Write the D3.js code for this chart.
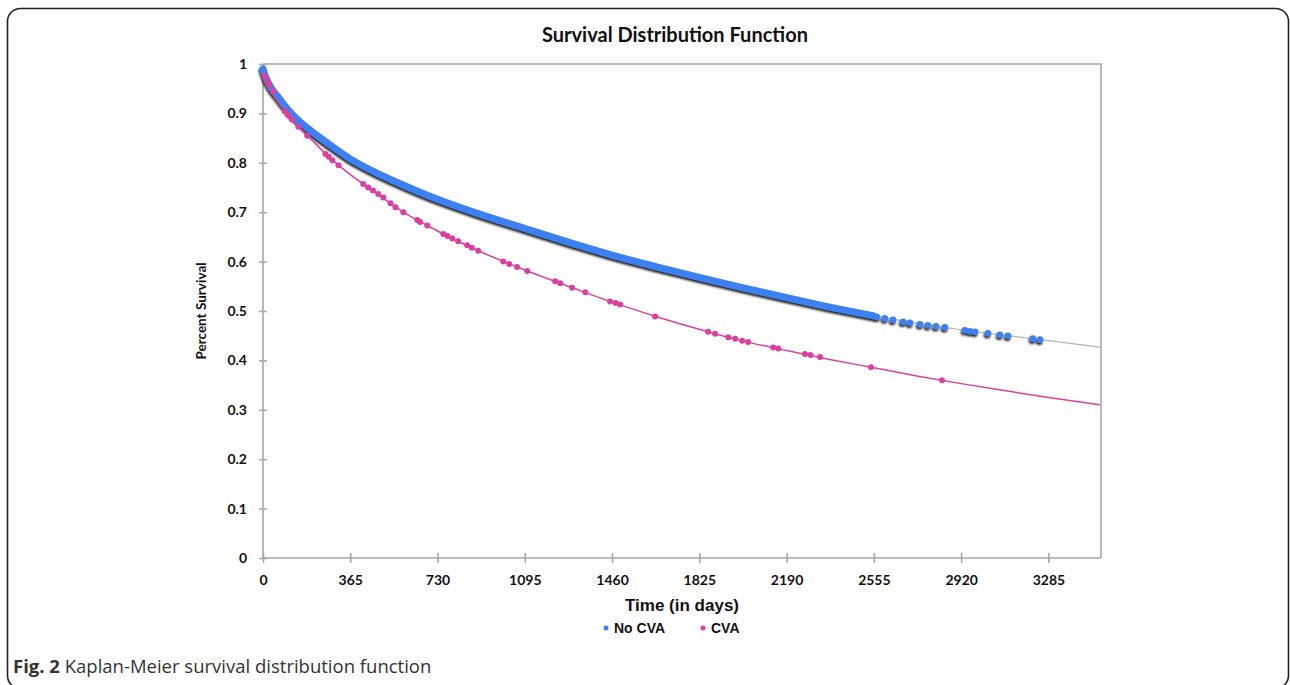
<!DOCTYPE html>
<html>
<head>
<meta charset="utf-8">
<script src="https://cdn.jsdelivr.net/npm/d3@7"></script>
<style>
  body { margin: 0; background: #fff; }
  svg { display: block; }
</style>
</head>
<body>
<svg id="chart" width="1290" height="685"></svg>
<script>
// survival curves: [day, survival]
const noCvaCurve = [
  [0, 0.99], [10, 0.975], [30, 0.955], [60, 0.935], [100, 0.91], [150, 0.885],
  [200, 0.865], [270, 0.84], [365, 0.808], [490, 0.776], [600, 0.752], [730, 0.726],
  [900, 0.697], [1095, 0.667], [1300, 0.636], [1460, 0.613], [1650, 0.589],
  [1825, 0.568], [2000, 0.548], [2190, 0.527], [2370, 0.508], [2555, 0.49],
  [2740, 0.475], [2920, 0.462], [3100, 0.451], [3285, 0.44], [3500, 0.427]
];
// the dense part of the No CVA markers looks like one solid band up to this day
const noCvaBandEnd = 2560;
// separate No CVA censor markers in the tail
const noCvaTail = [
  [2568, 0.488], [2601, 0.485], [2635, 0.482], [2677, 0.478], [2706, 0.476],
  [2748, 0.473], [2781, 0.471], [2815, 0.469], [2852, 0.467], [2936, 0.461],
  [2957, 0.459], [2978, 0.458], [3032, 0.455], [3082, 0.452], [3116, 0.45],
  [3220, 0.444], [3250, 0.442]
];

const cvaCurve = [
  [0, 0.985], [10, 0.97], [30, 0.95], [60, 0.925], [100, 0.9], [150, 0.872],
  [200, 0.848], [280, 0.81], [365, 0.776], [450, 0.747], [587, 0.70], [730, 0.662],
  [900, 0.622], [1095, 0.583], [1300, 0.546], [1460, 0.518], [1650, 0.488],
  [1825, 0.463], [2000, 0.44], [2190, 0.42], [2370, 0.402], [2555, 0.385],
  [2740, 0.368], [2920, 0.353], [3100, 0.339], [3285, 0.325], [3500, 0.31]
];
const cvaMarks = [
  [8, 0.975], [18, 0.965], [25, 0.958], [43, 0.945], [93, 0.904], [105, 0.897],
  [120, 0.888], [148, 0.873], [185, 0.855], [261, 0.818], [275, 0.812], [290, 0.805],
  [316, 0.795], [419, 0.757], [440, 0.75], [460, 0.744], [482, 0.737], [503, 0.73],
  [533, 0.718], [554, 0.71], [587, 0.70], [645, 0.684], [657, 0.68], [687, 0.673],
  [754, 0.656], [772, 0.652], [792, 0.647], [816, 0.641], [854, 0.633], [873, 0.628],
  [900, 0.622], [1005, 0.6], [1030, 0.595], [1063, 0.589], [1105, 0.581],
  [1222, 0.56], [1243, 0.556], [1293, 0.547], [1348, 0.538], [1452, 0.519],
  [1475, 0.516], [1494, 0.513], [1640, 0.489], [1862, 0.458], [1891, 0.454],
  [1946, 0.447], [1975, 0.444], [2004, 0.44], [2029, 0.437], [2134, 0.426],
  [2155, 0.424], [2267, 0.413], [2290, 0.411], [2330, 0.407], [2543, 0.386],
  [2840, 0.36]
];

const xTicks = [0, 365, 730, 1095, 1460, 1825, 2190, 2555, 2920, 3285];
const yTicks = [0, 0.1, 0.2, 0.3, 0.4, 0.5, 0.6, 0.7, 0.8, 0.9, 1];
const seriesNames = ["No CVA", "CVA"];
const seriesColors = ["#3c80f2", "#d9409f"];

const plot = { left: 263, right: 1101, top: 64, bottom: 558 };
const svg = d3.select("#chart");

// drop shadow used by the No CVA markers
const defs = svg.append("defs");
defs.append("filter")
  .attr("id", "shadow")
  .attr("x", "-20%").attr("y", "-20%").attr("width", "140%").attr("height", "140%")
  .append("feDropShadow")
  .attr("dx", -0.8).attr("dy", 2)
  .attr("stdDeviation", 0.8)
  .attr("flood-color", "#000")
  .attr("flood-opacity", 0.9);

// outer frame
svg.append("rect")
  .attr("x", 7.5).attr("y", 8.5)
  .attr("width", 1281).attr("height", 680)
  .attr("rx", 13)
  .attr("fill", "none")
  .attr("stroke", "#222")
  .attr("stroke-width", 1.6);

svg.append("text")
  .attr("x", 675).attr("y", 42)
  .attr("text-anchor", "middle")
  .style("font-family", "Lato, 'Open Sans', sans-serif")
  .style("font-weight", "bold")
  .style("font-size", "20px")
  .style("fill", "#111")
  .text("Survival Distribution Function");

const x = d3.scaleLinear().domain([0, 3505]).range([plot.left, plot.right]);
const y = d3.scaleLinear().domain([0, 1]).range([plot.bottom, plot.top]);

// plot area box (top and right sides)
svg.append("path")
  .attr("d", `M${plot.left},${plot.top}H${plot.right}V${plot.bottom}`)
  .attr("fill", "none")
  .attr("stroke", "#a8a8a8")
  .attr("stroke-width", 1.6);

const tickFont = g => g.selectAll("text")
  .style("font-family", "Lato, 'Open Sans', sans-serif")
  .style("font-weight", "bold")
  .style("font-size", "14px")
  .style("fill", "#111");

const xAxis = svg.append("g")
  .attr("transform", `translate(0,${plot.bottom})`)
  .call(d3.axisBottom(x).tickValues(xTicks).tickFormat(d3.format("d")).tickSize(5).tickPadding(12));
xAxis.selectAll(".tick line").attr("y1", -5);
xAxis.call(tickFont);

const yAxis = svg.append("g")
  .attr("transform", `translate(${plot.left},0)`)
  .call(d3.axisLeft(y).tickValues(yTicks).tickFormat(d => d === 0 || d === 1 ? d : d.toFixed(1)).tickSize(4).tickPadding(12));
yAxis.selectAll(".tick line").attr("x1", 4);
yAxis.call(tickFont);

svg.selectAll(".domain, .tick line")
  .attr("stroke", "#a8a8a8")
  .attr("stroke-width", 1.6);
xAxis.select(".domain").attr("d", `M${plot.left},0H${plot.right}`);
yAxis.select(".domain").attr("d", `M0,${plot.bottom}V${plot.top}`);

// axis titles
svg.append("text")
  .attr("x", 682).attr("y", 611)
  .attr("text-anchor", "middle")
  .style("font-family", "'Liberation Sans Narrow', 'Liberation Sans', sans-serif")
  .style("font-weight", "bold")
  .style("font-size", "17px")
  .style("fill", "#111")
  .text("Time (in days)");

svg.append("text")
  .attr("transform", `translate(206,${(plot.top + plot.bottom) / 2}) rotate(-90)`)
  .attr("text-anchor", "middle")
  .style("font-family", "Lato, 'Open Sans', sans-serif")
  .style("font-weight", "bold")
  .style("font-size", "13.5px")
  .style("fill", "#111")
  .text("Percent Survival");

const line = d3.line()
  .x(d => x(d[0]))
  .y(d => y(d[1]))
  .curve(d3.curveMonotoneX);

// No CVA: thin grey connecting line, dense marker band, tail markers
svg.append("path")
  .datum(noCvaCurve)
  .attr("d", line)
  .attr("fill", "none")
  .attr("stroke", "#b4b4b4")
  .attr("stroke-width", 1.2);

const blueG = svg.append("g").attr("filter", "url(#shadow)");
blueG.append("path")
  .datum(noCvaCurve.filter(d => d[0] <= noCvaBandEnd))
  .attr("d", line)
  .attr("fill", "none")
  .attr("stroke", seriesColors[0])
  .attr("stroke-width", 7)
  .attr("stroke-linecap", "round");
blueG.selectAll("circle")
  .data(noCvaTail)
  .join("circle")
  .attr("cx", d => x(d[0]))
  .attr("cy", d => y(d[1]))
  .attr("r", 3.3)
  .attr("fill", seriesColors[0]);

// CVA: pink line with censor markers
svg.append("path")
  .datum(cvaCurve)
  .attr("d", line)
  .attr("fill", "none")
  .attr("stroke", seriesColors[1])
  .attr("stroke-width", 1.5);

svg.append("g")
  .selectAll("circle")
  .data(cvaMarks)
  .join("circle")
  .attr("cx", d => x(d[0]))
  .attr("cy", d => y(d[1]))
  .attr("r", 3)
  .attr("fill", seriesColors[1]);

// legend
const legend = svg.append("g").attr("transform", "translate(606,633)");
const legendX = [0, 97];
seriesNames.forEach((name, i) => {
  const g = legend.append("g").attr("transform", `translate(${legendX[i]},0)`);
  g.append("circle").attr("cx", 0).attr("cy", -5).attr("r", 2.5).attr("fill", seriesColors[i]);
  g.append("text")
    .attr("x", 8).attr("y", 0)
    .style("font-family", "'Liberation Sans Narrow', 'Liberation Sans', sans-serif")
    .style("font-weight", "bold")
    .style("font-size", "14px")
    .style("fill", "#111")
    .text(name);
});

// figure caption
const caption = svg.append("text")
  .attr("x", 13).attr("y", 673)
  .style("font-family", "'Open Sans', sans-serif")
  .style("font-size", "18.5px")
  .style("fill", "#333");
caption.append("tspan").style("font-weight", "bold").text("Fig. 2");
caption.append("tspan").text(" Kaplan-Meier survival distribution function");
</script>
</body>
</html>
